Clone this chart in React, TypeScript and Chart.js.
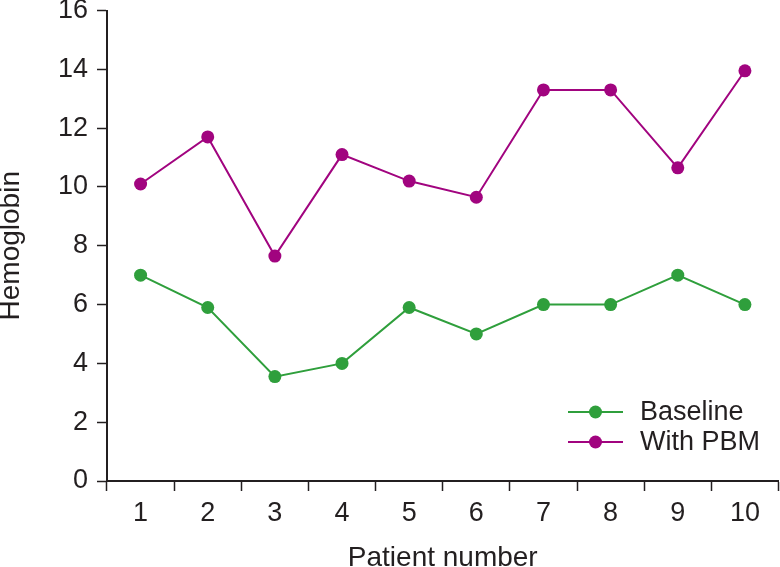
import React, { useEffect, useRef } from 'react';
import { Chart, registerables } from 'chart.js';

Chart.register(...registerables);

const categories = ['1', '2', '3', '4', '5', '6', '7', '8', '9', '10'];
const baselineValues = [7.0, 5.9, 3.55, 4.0, 5.9, 5.0, 6.0, 6.0, 7.0, 6.0];
const pbmValues = [10.1, 11.7, 7.65, 11.1, 10.2, 9.65, 13.3, 13.3, 10.65, 13.95];
const seriesNames = ['Baseline', 'With PBM'];
const seriesColors = ['#2f9f3c', '#a1047f'];
const yMin = 0;
const yMax = 16;
const yStep = 2;
const xTitle = 'Patient number';
const yTitle = 'Hemoglobin';

const INK = '#231f20';
const FONT = "'Liberation Sans', Arial, Helvetica, sans-serif";

const legendPlugin = {
  id: 'insideLegend',
  afterDraw(chart: any) {
    const ctx = chart.ctx;
    const x0 = 568;
    const x1 = 623;
    const ys = [412, 442];
    ctx.save();
    chart.data.datasets.forEach((ds: any, i: number) => {
      const y = ys[i];
      ctx.strokeStyle = ds.borderColor;
      ctx.lineWidth = 2;
      ctx.beginPath();
      ctx.moveTo(x0, y);
      ctx.lineTo(x1, y);
      ctx.stroke();
      ctx.fillStyle = ds.backgroundColor;
      ctx.beginPath();
      ctx.arc((x0 + x1) / 2, y, 6.5, 0, Math.PI * 2);
      ctx.fill();
      ctx.fillStyle = INK;
      ctx.font = `27px ${FONT}`;
      ctx.textAlign = 'left';
      ctx.textBaseline = 'middle';
      ctx.fillText(ds.label, 640, y + 1);
    });
    ctx.restore();
  },
};

export default function App() {
  const ref = useRef<HTMLCanvasElement | null>(null);

  useEffect(() => {
    document.body.style.margin = '0';
    const canvas = ref.current;
    if (!canvas) return;
    const chart = new Chart(canvas, {
      type: 'line',
      data: {
        labels: categories,
        datasets: [
          {
            label: seriesNames[0],
            data: baselineValues,
            borderColor: seriesColors[0],
            backgroundColor: seriesColors[0],
            borderWidth: 2,
            pointRadius: 6.5,
            pointBorderWidth: 0,
            pointBackgroundColor: seriesColors[0],
            tension: 0,
          },
          {
            label: seriesNames[1],
            data: pbmValues,
            borderColor: seriesColors[1],
            backgroundColor: seriesColors[1],
            borderWidth: 2,
            pointRadius: 6.5,
            pointBorderWidth: 0,
            pointBackgroundColor: seriesColors[1],
            tension: 0,
          },
        ],
      },
      options: {
        responsive: false,
        animation: false,
        layout: { autoPadding: false, padding: { top: 10.5, right: 1.5, bottom: 0, left: 0 } },
        plugins: {
          legend: { display: false },
          tooltip: { enabled: false },
        },
        scales: {
          x: {
            type: 'category',
            offset: true,
            afterFit: (s: any) => {
              s.height = 86;
              s.paddingLeft = 0;
              s.paddingRight = 0;
            },
            grid: {
              offset: true,
              drawOnChartArea: false,
              drawTicks: true,
              tickLength: 10,
              tickWidth: 1.5,
              tickColor: INK,
              color: INK,
            },
            border: { display: true, color: INK, width: 2 },
            ticks: {
              color: INK,
              font: { family: FONT, size: 27, lineHeight: 1.65 },
              padding: 0,
              maxRotation: 0,
              autoSkip: false,
            },
            title: {
              display: true,
              text: xTitle,
              color: INK,
              font: { family: FONT, size: 28, lineHeight: 0.6 },
              padding: 0,
            },
          },
          y: {
            min: yMin,
            max: yMax,
            afterFit: (s: any) => {
              s.width = 107;
              s.paddingTop = 0;
              s.paddingBottom = 0;
            },
            grid: {
              drawOnChartArea: false,
              drawTicks: true,
              tickLength: 10,
              tickWidth: 1.5,
              tickColor: INK,
              color: INK,
            },
            border: { display: true, color: INK, width: 2 },
            ticks: {
              stepSize: yStep,
              color: INK,
              font: { family: FONT, size: 27, lineHeight: 0.05 },
              padding: 9,
            },
            title: {
              display: true,
              text: yTitle,
              color: INK,
              font: { family: FONT, size: 28, lineHeight: 0.7 },
              padding: { top: 1, bottom: 0 },
            },
          },
        },
      },
      plugins: [legendPlugin],
    });
    return () => chart.destroy();
  }, []);

  return <canvas ref={ref} width={780} height={567} style={{ display: 'block' }} />;
}
